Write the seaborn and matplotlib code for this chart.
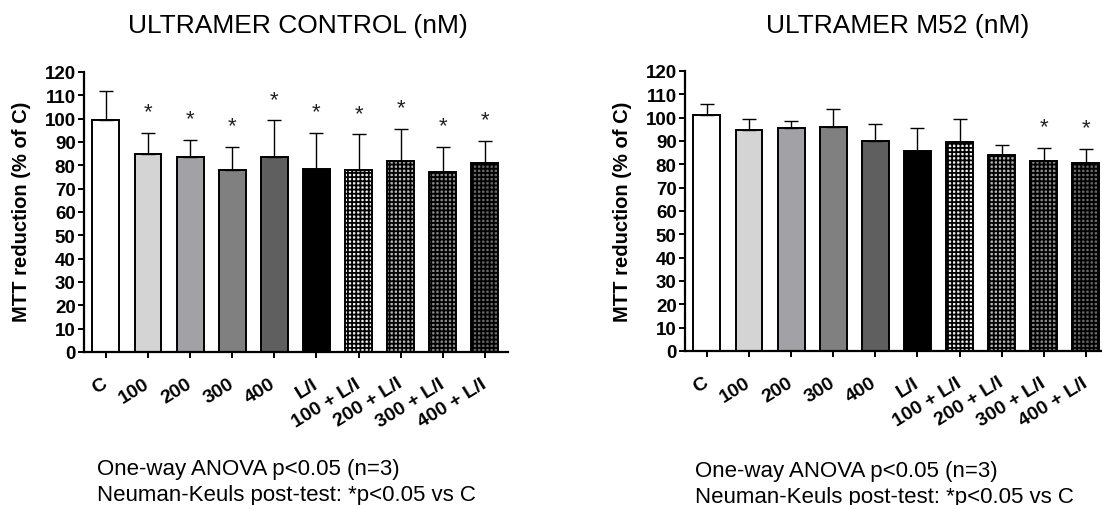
import matplotlib
matplotlib.use("Agg")
import matplotlib.pyplot as plt
import seaborn as sns
import pandas as pd
import numpy as np

# ---------------- data ----------------
categories = ["C", "100", "200", "300", "400", "L/I",
              "100 + L/I", "200 + L/I", "300 + L/I", "400 + L/I"]

control_mean = [99.6, 84.7, 83.4, 78.0, 83.4, 78.3, 78.1, 81.7, 77.0, 81.1]
control_sd = [12.4, 9.3, 7.6, 9.9, 15.9, 15.7, 15.2, 14.0, 10.9, 9.3]
control_sig = [False, True, True, True, True, True, True, True, True, True]

m52_mean = [101.1, 94.7, 95.4, 95.9, 90.0, 85.9, 89.4, 83.8, 81.6, 80.4]
m52_sd = [4.6, 4.7, 3.0, 8.0, 7.1, 9.5, 10.2, 4.5, 5.4, 6.2]
m52_sig = [False, False, False, False, False, False, False, False, True, True]

titles = ["ULTRAMER CONTROL (nM)", "ULTRAMER M52 (nM)"]
ylabel = "MTT reduction (% of C)"
foot1 = "One-way ANOVA p<0.05 (n=3)"
foot2 = "Neuman-Keuls post-test: *p<0.05 vs C"

# ---------------- style ----------------
sns.set_theme(style="ticks")
plt.rcParams["font.family"] = ["Liberation Sans", "DejaVu Sans"]
plt.rcParams["text.color"] = "black"
plt.rcParams["hatch.linewidth"] = 1.3
plt.rcParams["hatch.color"] = "black"

face_colors = ["#ffffff", "#d4d4d4", "#a2a2a6", "#808080", "#5f5f5f", "#000000",
               "#f0f0f0", "#b8b8b8", "#8c8c8c", "#6a6a6a"]
hatches = [None, None, None, None, None, None, "++++", "++++", "++++", "++++"]

fig = plt.figure(figsize=(11.02, 5.06), dpi=100)
W, H = 1102, 506
ax1 = fig.add_axes([84 / W, 1 - 353 / H, 424 / W, 280 / H])
ax2 = fig.add_axes([685 / W, 1 - 352 / H, 416 / W, 280 / H])

panels = [
    (ax1, control_mean, control_sd, control_sig, (-0.52, 9.55), 22),
    (ax2, m52_mean, m52_sd, m52_sig, (-0.52, 9.36), 623),
]

for i, (ax, means, sds, sig, xlim, ylab_x) in enumerate(panels):
    df = pd.DataFrame({"group": categories, "value": means})
    sns.barplot(data=df, x="group", y="value", order=categories, ax=ax,
                width=0.64, errorbar=None, color="white", saturation=1)
    for p, fc, h in zip(ax.patches, face_colors, hatches):
        p.set_facecolor(fc)
        p.set_edgecolor("black")
        p.set_linewidth(1.4)
        if h:
            p.set_hatch(h)
    xs = np.arange(len(categories))
    ax.errorbar(xs, means, yerr=[np.zeros(len(means)), sds], fmt="none",
                ecolor="black", elinewidth=1.0, capsize=5.2, capthick=1.0, zorder=1)
    for x, m, s, g in zip(xs, means, sds, sig):
        if g:
            ax.text(x, m + s + 9.0, "*", ha="center", va="center",
                    fontsize=16, color="#222222")
    ax.set_ylim(0, 120)
    ax.set_xlim(*xlim)
    ax.set_yticks(np.arange(0, 121, 10))
    ax.set_xlabel("")
    ax.set_ylabel("")
    sns.despine(ax=ax)
    for sp in ["left", "bottom"]:
        ax.spines[sp].set_linewidth(1.6)
        ax.spines[sp].set_color("black")
    ax.tick_params(axis="y", length=4.5, width=1.4, pad=1.5, labelsize=13.5,
                   colors="black")
    ax.tick_params(axis="x", length=4.5, width=1.4, pad=17, labelsize=14,
                   colors="black")
    for t in ax.get_yticklabels():
        t.set_fontweight("bold")
    ax.set_xticks(xs)
    ax.set_xticklabels(categories, rotation=32, ha="right", va="center",
                       rotation_mode="anchor", fontweight="bold")
    fig.text(ylab_x / W, 1 - 212 / H, ylabel, rotation=90, ha="center",
             va="center", fontsize=14.5, fontweight="bold", color="black")

fig.text(298 / W, 1 - 26 / H, titles[0], ha="center", va="center", fontsize=19,
         color="black")
fig.text(898 / W, 1 - 26 / H, titles[1], ha="center", va="center", fontsize=19,
         color="black")

for fx, fy in [(97, 475), (695, 477)]:
    fig.text(fx / W, 1 - fy / H, foot1, ha="left", va="baseline", fontsize=16,
             color="black")
    fig.text(fx / W, 1 - (fy + 26) / H, foot2, ha="left", va="baseline",
             fontsize=16, color="black")

fig.savefig("out.png", dpi=100)
